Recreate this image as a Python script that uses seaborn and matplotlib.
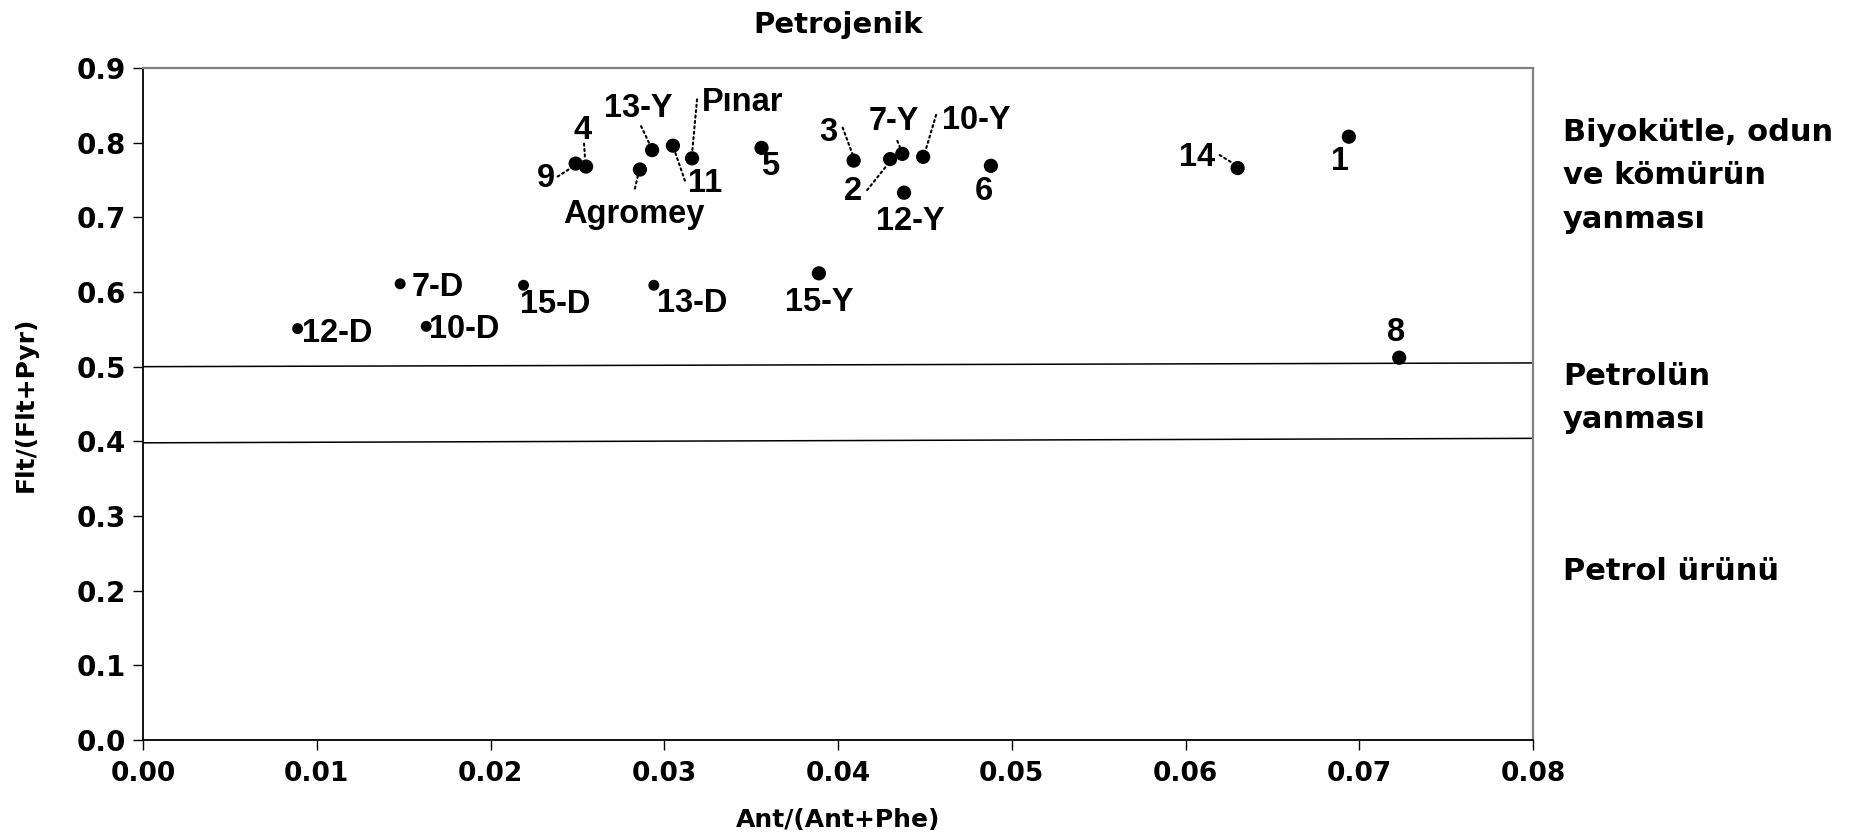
import matplotlib
matplotlib.use("Agg")
import matplotlib.pyplot as plt
from matplotlib.transforms import offset_copy
import pandas as pd
import seaborn as sns

# Sample names and diagnostic PAH ratios
labels = ["1", "2", "3", "4", "5", "6", "8", "9", "11", "14",
          "Agromey", "Pınar", "13-Y", "7-Y", "10-Y", "12-Y", "15-Y",
          "7-D", "10-D", "12-D", "13-D", "15-D"]
ant_ratio = [0.0694, 0.0430, 0.0409, 0.0255, 0.0356, 0.0488, 0.0723, 0.0249, 0.0305, 0.0630,
             0.0286, 0.0316, 0.0293, 0.0437, 0.0449, 0.0438, 0.0389,
             0.0148, 0.0163, 0.0089, 0.0294, 0.0219]
flt_ratio = [0.808, 0.778, 0.776, 0.768, 0.793, 0.769, 0.512, 0.772, 0.796, 0.766,
             0.764, 0.779, 0.790, 0.785, 0.781, 0.733, 0.625,
             0.611, 0.554, 0.551, 0.609, 0.609]

x_ticks = [0.00, 0.01, 0.02, 0.03, 0.04, 0.05, 0.06, 0.07, 0.08]
y_ticks = [0.0, 0.1, 0.2, 0.3, 0.4, 0.5, 0.6, 0.7, 0.8, 0.9]

# Source boundaries (value at x = 0 and at x = 0.08)
boundary_left = [0.500, 0.398]
boundary_right = [0.505, 0.404]

zone_texts = ["Biyokütle, odun\nve kömürün\nyanması", "Petrolün\nyanması", "Petrol ürünü"]

title_text = "Petrojenik"
x_title = "Ant/(Ant+Phe)"
y_title = "Flt/(Flt+Pyr)"

# Label placement: (dx, dy) of the label baseline centre from the marker, in pixels
label_offsets = {
    "1": (-9, -33), "2": (-37, -41), "3": (-25, 20), "4": (-3, 28), "5": (9, -27),
    "6": (-7, -34), "8": (-3, 17), "9": (-30, -23), "11": (32, -46), "14": (-41, 2),
    "Agromey": (-6, -53), "Pınar": (51, 47), "13-Y": (-14, 33), "7-Y": (-8, 24),
    "10-Y": (53, 28), "12-Y": (6, -37), "15-Y": (0, -38), "7-D": (38, -12),
    "10-D": (38, -12), "12-D": (40, -13), "13-D": (38, -27), "15-D": (32, -28),
}
# Dotted leader lines: (start, end) offsets from the marker, in pixels
leaders = {
    "9": ((-18, -13), (-4, -4)),
    "4": ((-2, 23), (-1, 7)),
    "13-Y": ((-11, 24), (-2, 5)),
    "Pınar": ((5, 59), (0, 5)),
    "11": ((12, -35), (2, -6)),
    "Agromey": ((-5, -19), (-2, -6)),
    "3": ((-11, 33), (-1, 6)),
    "2": ((-23, -31), (-3, -6)),
    "7-Y": ((-5, 13), (-2, 6)),
    "10-Y": ((13, 42), (2, 5)),
    "14": ((-18, 13), (-5, 5)),
}

sns.set_style("white")
plt.rcParams["font.family"] = ["DejaVu Sans"]
plt.rcParams["font.weight"] = "bold"
for key in ["text.color", "axes.labelcolor", "xtick.color", "ytick.color"]:
    plt.rcParams[key] = "black"

W, H = 1868, 840
fig = plt.figure(figsize=(W / 100, H / 100), dpi=100)
ax = fig.add_axes([143 / W, 1 - 740 / H, 1390 / W, 672 / H])

df = pd.DataFrame({"label": labels, "ant": ant_ratio, "flt": flt_ratio})
df["kind"] = ["D" if s.endswith("-D") else "other" for s in df["label"]]

sns.scatterplot(data=df, x="ant", y="flt", size="kind", sizes={"D": 62, "other": 105},
                color="black", linewidth=0, legend=False, ax=ax, zorder=3)

for y0, y1 in zip(boundary_left, boundary_right):
    ax.plot([x_ticks[0], x_ticks[-1]], [y0, y1], color="black", lw=1.1, zorder=2)

ax.set_xlim(x_ticks[0], x_ticks[-1])
ax.set_ylim(y_ticks[0], y_ticks[-1])
ax.set_xticks(x_ticks)
ax.set_yticks(y_ticks)
ax.set_xticklabels([f"{v:.2f}" for v in x_ticks])
ax.set_yticklabels([f"{v:.1f}" for v in y_ticks])
ax.tick_params(axis="both", direction="out", length=7, width=1, color="black",
               bottom=True, left=True)
ax.tick_params(axis="x", pad=8, labelsize=19)
ax.tick_params(axis="y", pad=5, labelsize=20)
for t in ax.get_xticklabels() + ax.get_yticklabels():
    t.set_fontweight("bold")
    t.set_color("black")
ax.set_xlabel("")
ax.set_ylabel("")

for side in ["left", "bottom"]:
    ax.spines[side].set_color("black")
    ax.spines[side].set_linewidth(1.3)
for side in ["top", "right"]:
    ax.spines[side].set_color("#808080")
    ax.spines[side].set_linewidth(1.6)

for lab, x, y in zip(labels, ant_ratio, flt_ratio):
    dx, dy = label_offsets[lab]
    ax.annotate(lab, xy=(x, y), xytext=(dx, dy), textcoords="offset pixels",
                ha="center", va="baseline", fontsize=23.5, fontweight="bold",
                family=["Liberation Sans", "DejaVu Sans"], color="black", zorder=4)
    if lab in leaders:
        (sx, sy), (ex, ey) = leaders[lab]
        t_start = offset_copy(ax.transData, fig=fig, x=sx, y=sy, units="dots")
        t_end = offset_copy(ax.transData, fig=fig, x=ex, y=ey, units="dots")
        ax.annotate("", xy=(x, y), xycoords=t_end, xytext=(x, y), textcoords=t_start,
                    arrowprops=dict(arrowstyle="-", color="black", lw=1.5,
                                    linestyle=(0, (1, 1.6)), shrinkA=0, shrinkB=0))

fig.text(838 / W, 1 - 25 / H, title_text, ha="center", va="center",
         fontsize=21, fontweight="bold")
fig.text(838 / W, 1 - 820 / H, x_title, ha="center", va="center",
         fontsize=18, fontweight="bold")
fig.text(26 / W, 1 - 404 / H, y_title, ha="center", va="center", rotation=90,
         fontsize=18, fontweight="bold")

zone_tops = [118, 362, 557]
for txt, top in zip(zone_texts, zone_tops):
    fig.text(1563 / W, 1 - top / H, txt, ha="left", va="top", fontsize=22,
             fontweight="bold", linespacing=1.62)

fig.savefig("out.png", dpi=100, facecolor="white")
